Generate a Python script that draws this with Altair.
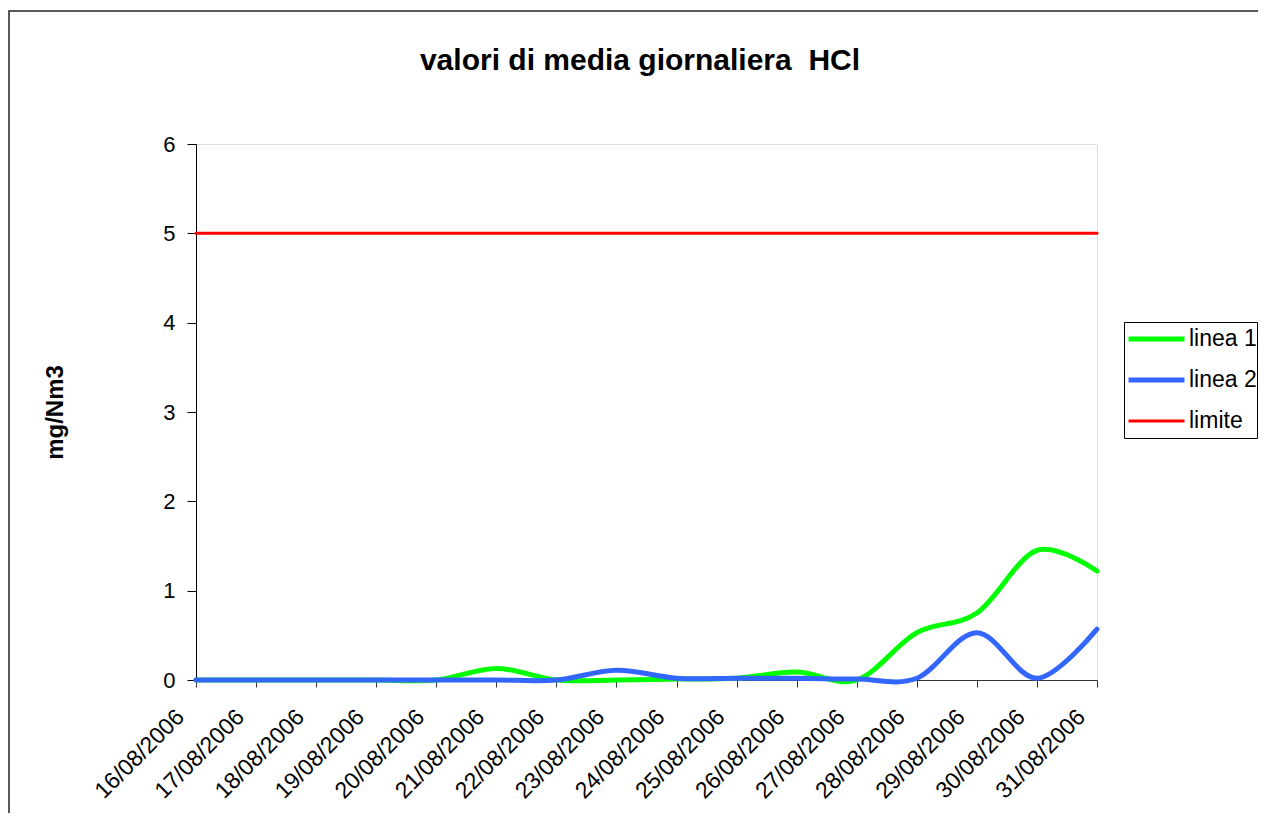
import altair as alt
import pandas as pd

dates = ["16/08/2006", "17/08/2006", "18/08/2006", "19/08/2006", "20/08/2006",
         "21/08/2006", "22/08/2006", "23/08/2006", "24/08/2006", "25/08/2006",
         "26/08/2006", "27/08/2006", "28/08/2006", "29/08/2006", "30/08/2006",
         "31/08/2006"]
linea1 = [0, 0, 0, 0, 0, 0.13, 0, 0, 0.01, 0.02, 0.09, 0, 0.53, 0.75, 1.45, 1.22]
linea2 = [0, 0, 0, 0, 0, 0, 0, 0.11, 0.02, 0.02, 0.02, 0.01, 0.02, 0.53, 0.02, 0.57]
limite = [5, 5, 5, 5, 5, 5, 5, 5, 5, 5, 5, 5, 5, 5, 5, 5]

series = ["linea 1", "linea 2", "limite"]
colors = ["#00FF00", "#3366FF", "#FF0000"]
widths = [5, 5, 3]
title_text = "valori di media giornaliera\u00a0 HCl"

rows = []
for s, vals, w in zip(series, [linea1, linea2, limite], widths):
    for i, (d, v) in enumerate(zip(dates, vals)):
        rows.append({"data": d, "i": i, "valore": v, "serie": s, "w": w})
df = pd.DataFrame(rows)

FONT = "Liberation Sans"

frame = alt.Chart(alt.Data(values=[{"k": 1}])).mark_rect(
    filled=False, stroke="#222222", strokeWidth=1.5
).encode(
    x=alt.value(-187), y=alt.value(-133), x2=alt.value(1200), y2=alt.value(800)
)

title = alt.Chart(alt.Data(values=[{"t": title_text}])).mark_text(
    font=FONT, fontSize=30, fontWeight="bold", color="black",
    align="center", baseline="alphabetic"
).encode(
    x=alt.value(444), y=alt.value(-74), text="t:N"
)

lines = alt.Chart(df).mark_line(
    interpolate="cardinal", strokeCap="round", strokeJoin="round"
).encode(
    x=alt.X("data:O", sort=dates, scale=alt.Scale(type="point", padding=0),
            axis=alt.Axis(title=None, labelAngle=315, labelAlign="right",
                          labelBaseline="middle", labelFont=FONT, labelFontSize=23,
                          labelColor="black", labelPadding=26, labelOffset=-16,
                          labelOverlap=False, labelBound=False,
                          tickSize=7, tickColor="#333333", domainColor="#333333",
                          grid=False)),
    y=alt.Y("valore:Q", scale=alt.Scale(domain=[0, 6]),
            axis=alt.Axis(values=[0, 1, 2, 3, 4, 5, 6], format="d",
                          title="mg/Nm3", titleFont=FONT, titleFontSize=24,
                          titleFontWeight="bold", titleColor="black",
                          titleAngle=270, titleX=-141, titleY=268,
                          titleAlign="center", titleBaseline="middle",
                          labelFont=FONT, labelFontSize=22, labelColor="black",
                          labelPadding=12, tickSize=9, tickColor="black",
                          domainColor="black", grid=False)),
    color=alt.Color("serie:N", sort=series,
                    scale=alt.Scale(domain=series, range=colors),
                    legend=alt.Legend(title=None, orient="none", legendX=928, legendY=178,
                                      direction="vertical", symbolType="stroke",
                                      symbolSize=3136,
                                      symbolStrokeWidth=alt.ExprRef("datum.value === 'limite' ? 3 : 5"),
                                      clipHeight=34, rowPadding=7, padding=0,
                                      strokeColor="black", fillColor="white",
                                      labelFont=FONT, labelFontSize=23, labelColor="black",
                                      labelOffset=21, symbolOffset=21)),
    strokeWidth=alt.StrokeWidth("w:Q", scale=None, legend=None),
    order=alt.Order("i:Q"),
)

chart = alt.layer(frame, title, lines).properties(
    width=901, height=536,
    autosize=alt.AutoSizeParams(type="none"),
    padding={"left": 188, "top": 136, "right": 161, "bottom": 133},
).configure_view(stroke="#808080", strokeWidth=1).configure(background="white")

chart.save("out.html", embed_options={"renderer": "svg", "actions": False})
